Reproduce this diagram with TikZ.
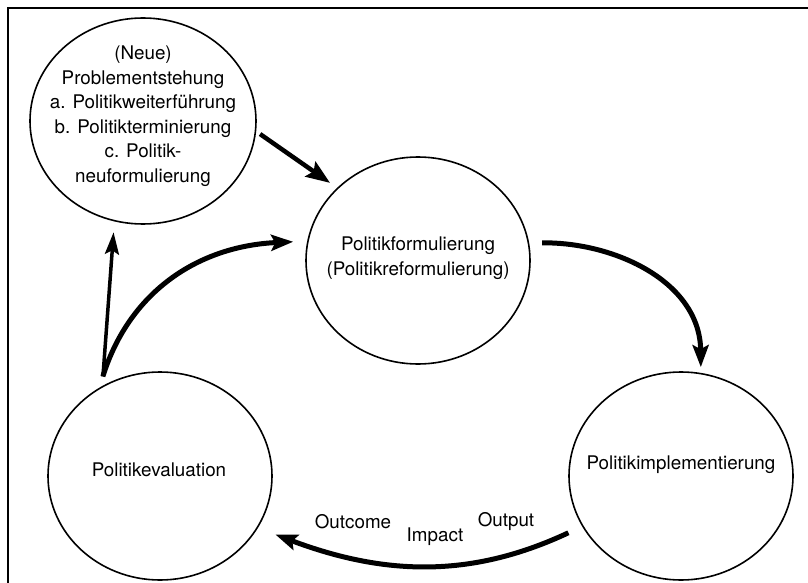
\documentclass[tikz,border=0pt]{standalone}
\usepackage{fontspec}
\setmainfont{TeX Gyre Heros}
\usetikzlibrary{shapes.geometric,arrows.meta}
\begin{document}
\begin{tikzpicture}[x=1pt,y=-1pt,
  phase/.style={ellipse,draw,line width=1.6pt,inner sep=0pt,outer sep=0pt,minimum width=224pt,minimum height=207pt},
  txt/.style={align=center,font=\fontsize{18.8}{24.5}\selectfont,inner sep=0pt},
  flow/.style={line width=5pt,-{Stealth[length=22pt,width=16pt,inset=4pt]}},
  thinflow/.style={line width=3.5pt,-{Stealth[length=22pt,width=14pt,inset=4pt]}},
  ]
\useasboundingbox (0,0) rectangle (808,583);
\draw[line width=2pt,line join=miter] (7.5,590) -- (7.5,8.5) -- (815,8.5);

\node[phase,minimum width=226pt,minimum height=206pt] (p) at (143,121) {};
\node[phase] (f) at (418,260.5) {};
\node[phase,minimum height=208pt] (i) at (681,476) {};
\node[phase,minimum height=208pt] (e) at (160,476) {};

\node[txt] (pt) at (143,116) {(Neue)\\Problementstehung\\a. Politikweiterführung\\b. Politikterminierung\\c. Politik-\\neuformulierung};
\node[txt] (ft) at (418,258) {Politikformulierung\\(Politikreformulierung)};
\node[txt] (it) at (681,465) {Politikimplementierung};
\node[txt] (et) at (159,470) {Politikevaluation};

\node[txt] (l1) at (353,522) {Outcome};
\node[txt] (l2) at (435,537) {Impact};
\node[txt] (l3) at (506,522) {Output};

% p -> f
\draw[line width=4.5pt,-{Stealth[length=24pt,width=18pt,inset=4pt]},shorten <=5.6pt,shorten >=9.4pt] (p.-5.5) -- (f.138);
% f -> i
\draw[flow,shorten <=13.8pt,shorten >=6.5pt] (f.9.5) .. controls (615,242) and (700,282) .. (i.79.5);
% i -> e
\draw[flow,shorten <=15.9pt,shorten >=19.5pt] (i.-153.6) .. controls (474,577) and (388,577) .. (e.-28.7);
% e -> f
\draw[flow,shorten <=13pt,shorten >=14.8pt] (e.125.6) .. controls (130,290) and (200,246) .. (f.170.5);
% e -> p
\draw[thinflow,shorten <=10.5pt,shorten >=11.7pt] (e.123.6) -- (p.-106.9);
\end{tikzpicture}
\end{document}
